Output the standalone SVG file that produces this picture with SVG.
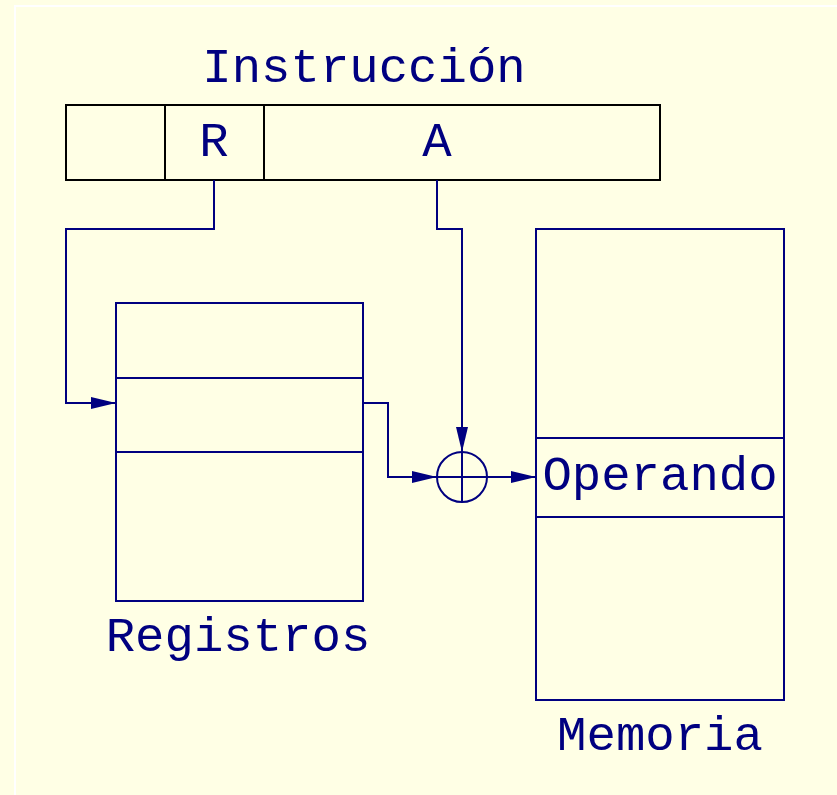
<svg xmlns="http://www.w3.org/2000/svg" width="837" height="795" viewBox="0 0 837 795">
<defs>
<style>
.bg{fill:#FFFFE5}
.frame{fill:none;stroke:#FFFFFF;stroke-width:2}
.instr{fill:none;stroke:#000000;stroke-width:2}
.box{fill:none;stroke:#000080;stroke-width:2}
.wire{fill:none;stroke:#000080;stroke-width:2}
.lbl{font-family:"Liberation Mono","Courier New",monospace;font-size:49px;fill:#000080;text-anchor:middle}
</style>
<marker id="arr" viewBox="0 0 25 12" refX="25" refY="6" markerWidth="25" markerHeight="12" markerUnits="userSpaceOnUse" orient="auto">
<path d="M0,0 L25,6 L0,12 Z" fill="#000080"/>
</marker>
</defs>
<rect class="bg" x="0" y="0" width="837" height="795"/>
<path class="frame" d="M15,795 L15,6 L837,6"/>
<text class="lbl" x="364" y="82">Instrucción</text>
<g id="instruccion">
<rect class="instr" x="66" y="105" width="594" height="75"/>
<line class="instr" x1="165" y1="105" x2="165" y2="180"/>
<line class="instr" x1="264" y1="105" x2="264" y2="180"/>
<text class="lbl" x="214" y="156">R</text>
<text class="lbl" x="437" y="156">A</text>
</g>
<g id="registros">
<rect class="box" x="116" y="303" width="247" height="298"/>
<line class="box" x1="116" y1="378" x2="363" y2="378"/>
<line class="box" x1="116" y1="452" x2="363" y2="452"/>
<text class="lbl" x="238" y="651">Registros</text>
</g>
<g id="sumador">
<circle class="box" cx="462" cy="477" r="25"/>
<line class="box" x1="437" y1="477" x2="487" y2="477"/>
<line class="box" x1="462" y1="452" x2="462" y2="502"/>
</g>
<g id="memoria">
<rect class="box" x="536" y="229" width="248" height="471"/>
<line class="box" x1="536" y1="438" x2="784" y2="438"/>
<line class="box" x1="536" y1="517" x2="784" y2="517"/>
<text class="lbl" x="660" y="490">Operando</text>
<text class="lbl" x="660" y="750">Memoria</text>
</g>
<g id="conectores">
<path class="wire" d="M214,180 L214,229 L66,229 L66,403 L116,403" marker-end="url(#arr)"/>
<path class="wire" d="M437,180 L437,229 L462,229 L462,452" marker-end="url(#arr)"/>
<path class="wire" d="M363,403 L388,403 L388,477 L437,477" marker-end="url(#arr)"/>
<path class="wire" d="M487,477 L536,477" marker-end="url(#arr)"/>
</g>
</svg>
